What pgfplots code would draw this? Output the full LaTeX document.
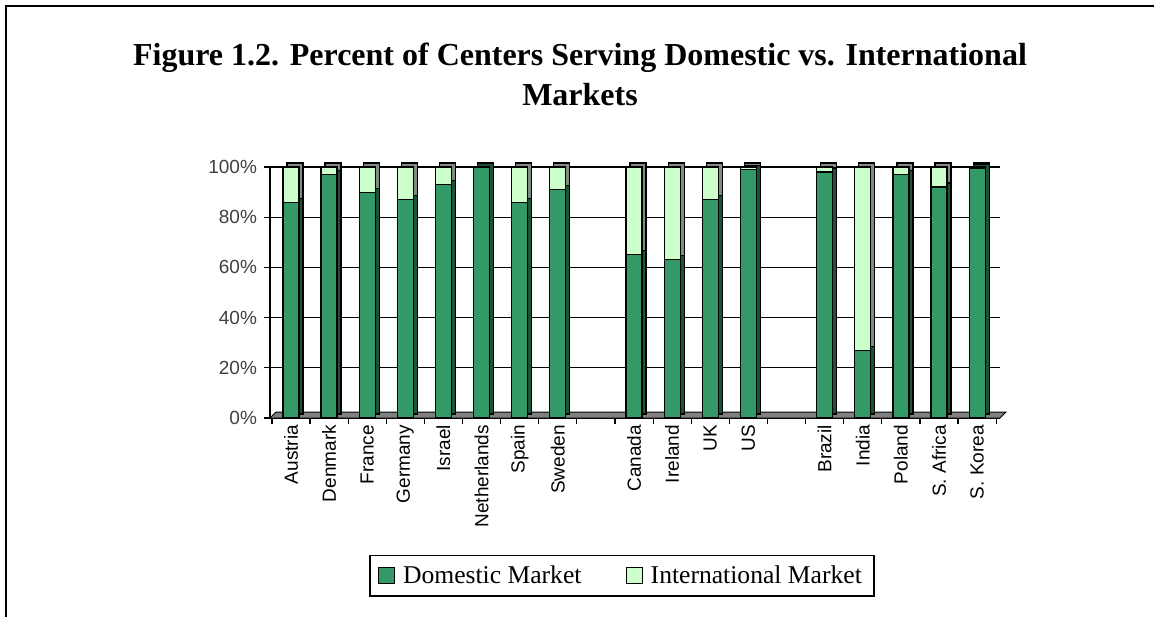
\documentclass[border=0pt]{standalone}
\usepackage{fontspec}
\setmainfont{Liberation Serif}
\setsansfont{Liberation Sans}
\usepackage{pgfplots}
\usepackage{pgfplotstable}
\pgfplotsset{compat=1.18}

\definecolor{dom}{HTML}{339966}
\definecolor{domside}{HTML}{1D5236}
\definecolor{intl}{HTML}{CCFFCC}
\definecolor{intlside}{HTML}{7F8C7F}
\definecolor{floorgray}{HTML}{808080}

% x = slot (8 and 13 are the empty gaps between regions)
\pgfplotstableread{
x dom intl
0 86 14
1 97 3
2 90 10
3 87 13
4 93 7
5 100 0
6 86 14
7 91 9
9 65 35
10 63 37
11 87 13
12 99 1
14 98 2
15 27 73
16 97 3
17 92 8
18 99.5 0.5
}\centers

\pgfplotsset{
  panel/.style={scale only axis, width=365pt, height=125.5pt,
    xmin=-0.55, xmax=18.6, ymin=0, ymax=100, anchor=south west, clip=false},
  bars/.style={panel, hide axis, ybar stacked, bar width=8pt},
}

\begin{document}
\begin{tikzpicture}
\path[use as bounding box] (0,0) rectangle (577pt,308.5pt);
\draw[line width=1pt] (3pt,0) -- (3pt,305.5pt) -- (577pt,305.5pt);

\node[anchor=base, font=\bfseries\fontsize{16}{18}\selectfont] at (290pt,275.5pt)
  {Figure 1.2. Percent of Centers Serving Domestic vs. International};
\node[anchor=base, font=\bfseries\fontsize{16}{18}\selectfont] at (290pt,255.5pt) {Markets};

% frame, grid and ticks
\begin{axis}[panel, at={(135pt,99.5pt)},
  axis lines*=left, axis line style={black, line width=0.6pt},
  ytick={0,20,...,100}, yticklabel={\pgfmathprintnumber{\tick}\%},
  /pgf/number format/assume math mode=true,
  yticklabel style={font=\sffamily\fontsize{9.5}{12}\selectfont, text=black!75},
  ymajorgrids, grid style={black, line width=0.6pt},
  tick align=outside, major tick length=3pt, tick style={black, line width=0.6pt},
  xtick={-0.5,0.5,...,18.5}, xticklabels={},
  extra x ticks={0,...,18},
  extra x tick labels={Austria,Denmark,France,Germany,Israel,Netherlands,Spain,Sweden,,Canada,Ireland,UK,US,,Brazil,India,Poland,S. Africa,S. Korea},
  extra x tick style={major tick length=0pt, grid=none,
    tick label style={rotate=90, anchor=east, font=\sffamily\fontsize{9.5}{10}\selectfont}},
]
\filldraw[fill=floorgray, draw=black, line width=0.5pt]
  (axis cs:-0.55,0) -- (axis cs:18.6,0) -- ++(3pt,3pt)
  -- ([shift={(3pt,3pt)}]axis cs:-0.55,0) -- cycle;
\end{axis}

% depth faces of the bars
\begin{axis}[bars, at={(137pt,101.5pt)}]
\addplot[fill=domside, draw=black, line width=0.6pt] table[x=x, y=dom] {\centers};
\addplot[fill=intlside, draw=black, line width=0.6pt] table[x=x, y=intl] {\centers};
\end{axis}

% front faces of the bars
\begin{axis}[bars, at={(135pt,99.5pt)},
  legend style={at={(0.482,-0.629)}, anchor=center, legend columns=2,
    draw=black, line width=0.8pt, font=\fontsize{12.8}{14}\selectfont,
    inner xsep=4pt, inner ysep=3pt,
    /tikz/every odd column/.append style={column sep=2pt},
    /tikz/every even column/.append style={column sep=20pt}},
  legend image code/.code={\draw[#1, line width=0.6pt] (0pt,-4pt) rectangle (8pt,4pt);},
]
\addplot[fill=dom, draw=black, line width=0.6pt] table[x=x, y=dom] {\centers};
\addplot[fill=intl, draw=black, line width=0.6pt] table[x=x, y=intl] {\centers};
\legend{Domestic Market, International Market}
\end{axis}
\end{tikzpicture}
\end{document}
